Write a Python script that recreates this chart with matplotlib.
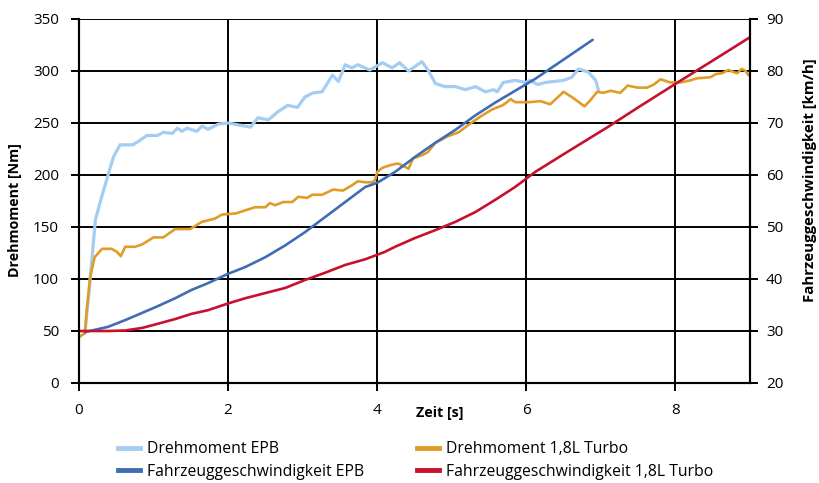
import matplotlib
matplotlib.use("Agg")
import matplotlib.pyplot as plt
from matplotlib.lines import Line2D

plt.rcParams['font.family'] = ['Open Sans', 'DejaVu Sans']

# Drehmoment EPB [Nm]
t_tq_epb = [0.08, 0.15, 0.22, 0.30, 0.39, 0.46, 0.55, 0.72, 0.79, 0.91, 1.05, 1.13, 1.25,
            1.32, 1.38, 1.45, 1.58, 1.65, 1.73, 1.87, 2.00, 2.15, 2.30, 2.40, 2.54, 2.67,
            2.80, 2.93, 3.03, 3.14, 3.26, 3.40, 3.48, 3.57, 3.66, 3.74, 3.90, 4.07, 4.20,
            4.30, 4.42, 4.60, 4.68, 4.78, 4.91, 5.05, 5.18, 5.32, 5.45, 5.56, 5.61, 5.69,
            5.85, 5.99, 6.05, 6.15, 6.26, 6.50, 6.61, 6.70, 6.83, 6.93, 6.97]
tq_epb = [48, 100, 157, 178, 200, 217, 229, 229, 232, 238, 238, 241, 240,
          245, 242, 245, 242, 247, 244, 249, 250, 248, 246, 255, 253, 261,
          267, 265, 275, 279, 280, 296, 290, 306, 303, 306, 301, 308, 303,
          308, 300, 309, 301, 288, 285, 285, 282, 285, 280, 282, 280, 289,
          291, 289, 291, 287, 289, 291, 294, 302, 299, 291, 281]

# Drehmoment 1,8L Turbo [Nm]
t_tq_turbo = [0.00, 0.08, 0.10, 0.15, 0.21, 0.31, 0.44, 0.51, 0.56, 0.62, 0.75, 0.84,
              1.00, 1.13, 1.29, 1.49, 1.65, 1.82, 1.92, 2.10, 2.23, 2.36, 2.50, 2.56,
              2.63, 2.74, 2.86, 2.94, 3.06, 3.13, 3.26, 3.41, 3.54, 3.66, 3.74, 3.84,
              3.93, 3.97, 4.00, 4.07, 4.20, 4.28, 4.37, 4.42, 4.48, 4.60, 4.68, 4.78,
              4.94, 5.09, 5.22, 5.38, 5.54, 5.68, 5.74, 5.79, 5.85, 6.03, 6.19, 6.32,
              6.50, 6.63, 6.78, 6.86, 6.95, 7.03, 7.13, 7.26, 7.36, 7.49, 7.62, 7.71,
              7.80, 7.93, 8.07, 8.20, 8.29, 8.47, 8.54, 8.63, 8.71, 8.78, 8.83, 8.89,
              8.94, 8.98]
tq_turbo = [44, 48, 67, 102, 121, 129, 129, 126, 122, 131, 131, 133,
            140, 140, 148, 148, 155, 158, 162, 163, 166, 169, 169, 173,
            171, 174, 174, 179, 178, 181, 181, 186, 185, 190, 194, 193,
            193, 195, 203, 207, 210, 211, 208, 206, 216, 219, 222, 231,
            237, 241, 248, 256, 263, 267, 270, 273, 270, 270, 271, 268,
            280, 274, 266, 272, 280, 279, 281, 279, 286, 284, 284, 287,
            292, 289, 289, 291, 293, 294, 297, 298, 301, 299, 298, 302,
            300, 296]

# Fahrzeuggeschwindigkeit EPB [km/h]
t_v_epb = [0.08, 0.39, 0.62, 0.85, 1.06, 1.29, 1.51, 1.73, 2.00, 2.23, 2.50, 2.77,
           3.03, 3.30, 3.57, 3.84, 4.00, 4.24, 4.51, 4.78, 5.05, 5.32, 5.58, 5.85,
           6.12, 6.50, 6.89]
v_epb = [29.8, 30.8, 32.1, 33.5, 34.8, 36.3, 37.9, 39.2, 41.0, 42.3, 44.2, 46.5,
         49.0, 51.9, 54.8, 57.7, 58.5, 60.6, 63.5, 66.2, 68.7, 71.5, 73.9, 76.2,
         78.5, 82.2, 86.0]

# Fahrzeuggeschwindigkeit 1,8L Turbo [km/h]
t_v_turbo = [0.00, 0.39, 0.62, 0.85, 1.06, 1.29, 1.51, 1.73, 2.00, 2.23, 2.50, 2.77,
             3.03, 3.30, 3.57, 3.84, 4.10, 4.24, 4.51, 4.78, 5.05, 5.32, 5.58, 5.85,
             6.12, 6.50, 7.09, 7.50, 8.03, 8.50, 9.00]
v_turbo = [30.0, 30.0, 30.1, 30.6, 31.4, 32.3, 33.3, 34.0, 35.3, 36.3, 37.3, 38.3,
           39.8, 41.2, 42.7, 43.8, 45.2, 46.2, 47.9, 49.4, 51.0, 52.9, 55.2, 57.7,
           60.6, 64.0, 69.2, 73.0, 77.8, 82.0, 86.5]

x_ticks = [0, 2, 4, 6, 8]
tq_ticks = [0, 50, 100, 150, 200, 250, 300, 350]
v_ticks = [20, 30, 40, 50, 60, 70, 80, 90]

labels = ["Drehmoment EPB", "Fahrzeuggeschwindigkeit EPB",
          "Drehmoment 1,8L Turbo", "Fahrzeuggeschwindigkeit 1,8L Turbo"]

c_tq_epb = "#a3cdf2"
c_v_epb = "#3f6db4"
c_tq_turbo = "#e09c26"
c_v_turbo = "#c8102e"

fig = plt.figure(figsize=(8.2, 4.83), dpi=100)
ax = fig.add_axes([79 / 820, 1 - 383 / 483, 671 / 820, 364 / 483])
ax2 = ax.twinx()

line_kw = dict(solid_capstyle="round", solid_joinstyle="round")
ax.plot(t_tq_epb, tq_epb, color=c_tq_epb, lw=2.3, **line_kw)
ax.plot(t_tq_turbo, tq_turbo, color=c_tq_turbo, lw=1.9, **line_kw)
ax2.plot(t_v_epb, v_epb, color=c_v_epb, lw=1.9, **line_kw)
ax2.plot(t_v_turbo, v_turbo, color=c_v_turbo, lw=1.9, **line_kw)

ax.set_xlim(0, 9)
ax.set_ylim(0, 350)
ax2.set_ylim(20, 90)
ax.set_xticks(x_ticks)
ax.set_yticks(tq_ticks)
ax2.set_yticks(v_ticks)

ax.grid(True, color="black", lw=1.4)
ax.set_axisbelow(True)

for a in (ax, ax2):
    for side in ("left", "right", "bottom"):
        a.spines[side].set_linewidth(1.5)
        a.spines[side].set_color("black")
    a.spines["top"].set_visible(False)
ax.tick_params(axis="both", direction="out", length=5.5, width=1.4,
               labelsize=11, colors="black")
ax.tick_params(axis="y", pad=9)
ax.tick_params(axis="x", pad=9)
ax2.tick_params(axis="y", direction="out", length=5.5, width=1.4,
                labelsize=11, pad=6)

fig.text(15 / 820, 1 - 210 / 483, "Drehmoment [Nm]", rotation=90,
         ha="center", va="center", fontsize=10.3, fontweight="bold")
fig.text(810 / 820, 1 - 180 / 483, "Fahrzeuggeschwindigkeit [km/h]", rotation=90,
         ha="center", va="center", fontsize=10.8, fontweight="bold")
fig.text(440 / 820, 1 - 413 / 483, "Zeit [s]", ha="center", va="center",
         fontsize=10.3, fontweight="bold")

colors = [c_tq_epb, c_v_epb, c_tq_turbo, c_v_turbo]
handles = [Line2D([], [], color=c, lw=3.5) for c in colors]
leg_kw = dict(frameon=False, fontsize=11.3, handlelength=1.4, handletextpad=0.45,
              labelspacing=0.42, borderpad=0, borderaxespad=0, loc="upper left")
fig.legend(handles[:2], labels[:2], bbox_to_anchor=(118 / 820, 1 - 441 / 483), **leg_kw)
fig.legend(handles[2:], labels[2:], bbox_to_anchor=(417 / 820, 1 - 441 / 483), **leg_kw)

fig.savefig("out.png", dpi=100)
